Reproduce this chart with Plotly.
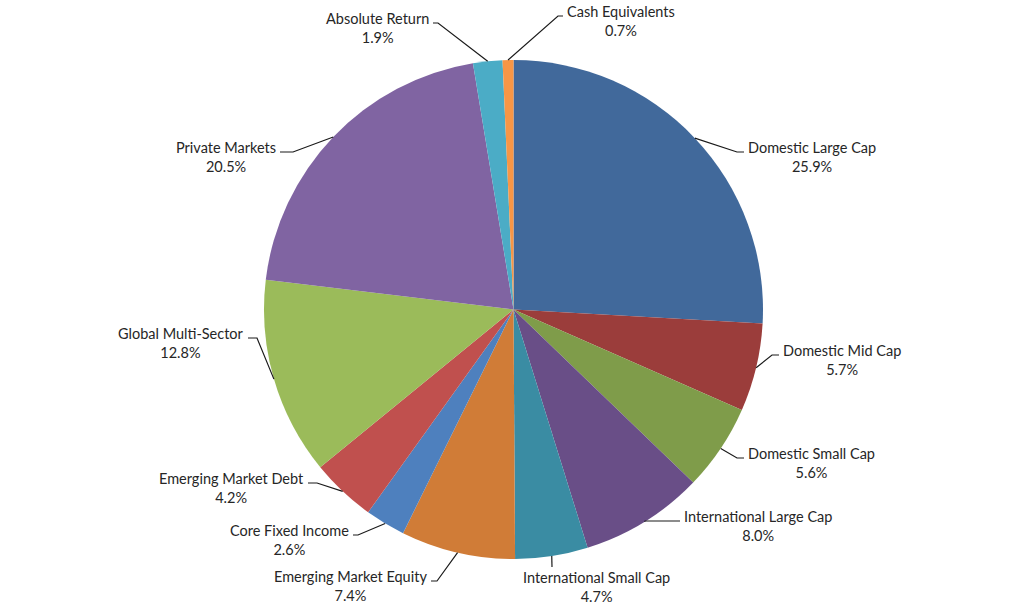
import math
import plotly.graph_objects as go

# allocation data, clockwise from 12 o'clock
categories = ['Domestic Large Cap', 'Domestic Mid Cap', 'Domestic Small Cap',
              'International Large Cap', 'International Small Cap', 'Emerging Market Equity',
              'Core Fixed Income', 'Emerging Market Debt', 'Global Multi-Sector',
              'Private Markets', 'Absolute Return', 'Cash Equivalents']
weights = [25.9, 5.7, 5.6, 8.0, 4.7, 7.4, 2.6, 4.2, 12.8, 20.5, 1.9, 0.7]
colors = ['#41699B', '#9B3D3B', '#7F9C4A', '#694E87', '#3A8CA3', '#D07C37',
          '#4E80BE', '#C0504E', '#9BBB5A', '#8064A2', '#4BACC6', '#F79646']

W, H = 1030, 612
cx, cy, R = 513.5, 309.5, 249.5

# callout placement (pixels): knee of leader, text edge, side
callouts = {
    'Domestic Large Cap': (737, 152, 747, 'r'),
    'Domestic Mid Cap': (772, 355, 782, 'r'),
    'Domestic Small Cap': (737, 458, 747, 'r'),
    'International Large Cap': (645, 521, 683, 'r'),
    'International Small Cap': (552, 567, 596, 'b'),
    'Emerging Market Equity': (437, 581, 428, 'l'),
    'Core Fixed Income': (358, 535, 350, 'l'),
    'Emerging Market Debt': (317, 483, 305, 'l'),
    'Global Multi-Sector': (257, 338, 245, 'l'),
    'Private Markets': (293, 152, 277, 'l'),
    'Absolute Return': (438, 23, 430, 'l'),
    'Cash Equivalents': (558, 16, 566, 'r'),
}


def px(x):
    return x / W


def py(y):
    return 1 - y / H


fig = go.Figure(go.Pie(
    labels=categories, values=weights, sort=False, direction='clockwise',
    marker=dict(colors=colors, line=dict(width=0)),
    textinfo='none', hoverinfo='label+percent', showlegend=False,
    domain=dict(x=[px(cx - R), px(cx + R)], y=[py(cy + R), py(cy - R)]),
))

font = dict(family='Lato', size=14.5, color='#262626')
total = sum(weights)
cum = 0
for name, v in zip(categories, weights):
    theta = 2 * math.pi * (cum + v / 2) / total
    cum += v
    ex, ey = cx + R * math.sin(theta), cy - R * math.cos(theta)
    kx, ky, tx, side = callouts[name]
    text = f'{name}<br>{v:.1f}%'
    if side == 'b':
        path = f'M {px(ex)},{py(ey)} L {px(kx)},{py(ky)}'
        fig.add_annotation(x=px(tx), y=py(ky + 20), text=text, xanchor='center', yanchor='middle')
    else:
        end = tx - 3 if side == 'r' else tx + 3
        path = f'M {px(ex)},{py(ey)} L {px(kx)},{py(ky)} L {px(end)},{py(ky)}'
        fig.add_annotation(x=px(tx), y=py(ky + 5), text=text,
                           xanchor='left' if side == 'r' else 'right', yanchor='middle')
    fig.add_shape(type='path', path=path, xref='paper', yref='paper',
                  line=dict(color='#1a1a1a', width=1.2))

fig.update_annotations(xref='paper', yref='paper', showarrow=False, align='center',
                       font=font, borderpad=0)
fig.update_layout(width=W, height=H, margin=dict(l=0, r=0, t=0, b=0),
                  paper_bgcolor='white', plot_bgcolor='white')

# page body has a default margin; drop it so the figure sits at the window origin
fig.write_html('out.html', config={'displayModeBar': False},
               post_script="document.body.style.margin='0';")
